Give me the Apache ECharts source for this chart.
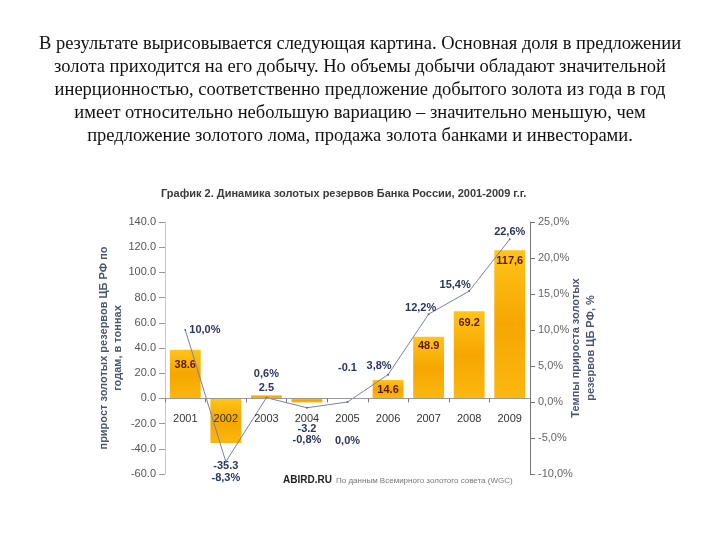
<!DOCTYPE html>
<html><head><meta charset="utf-8">
<script src="https://cdn.jsdelivr.net/npm/echarts@6/dist/echarts.min.js"></script>
<style>html,body{margin:0;padding:0;background:#fff}#c{width:720px;height:540px}</style>
</head><body><div id="c"></div>
<script>
const years = ['2001','2002','2003','2004','2005','2006','2007','2008','2009'];
const tonnes = [38.6, -35.3, 2.5, -3.2, -0.1, 14.6, 48.9, 69.2, 117.6];
const growthPct = [10.0, -8.3, 0.6, -0.8, 0.0, 3.8, 12.2, 15.4, 22.6];
const tonneLabels = ['38.6','-35.3','2.5','-3.2','-0.1','14.6','48.9','69.2','117,6'];
const paragraph = [
 'В результате вырисовывается следующая картина. Основная доля в предложении',
 'золота приходится на его добычу. Но объемы добычи обладают значительной',
 'инерционностью, соответственно предложение добытого золота из года в год',
 'имеет относительно небольшую вариацию – значительно меньшую, чем',
 'предложение золотого лома, продажа золота банками и инвесторами.'
];
const chartTitle = 'График 2. Динамика золотых резервов Банка России, 2001-2009 г.г.';

const barLabelCfg = [
 {position:'insideTop', distance:10, inside:true},
 {position:'bottom', distance:18},
 {position:'top', distance:2},
 {position:'bottom', distance:21},
 {position:'top', distance:25},
 {position:'insideTop', distance:4, inside:true},
 {position:'insideTop', distance:4, inside:true},
 {position:'insideTop', distance:6, inside:true},
 {position:'insideTop', distance:5, inside:true}
];
const lineLabelCfg = [
 {position:'right', distance:3, offset:[0,0]},
 {position:'bottom', distance:10, offset:[0,0]},
 {position:'top', distance:17, offset:[0,0]},
 {position:'bottom', distance:26, offset:[0,0]},
 {position:'bottom', distance:32, offset:[0,0]},
 {position:'top', distance:2, offset:[-9,0]},
 {position:'top', distance:0, offset:[-8,0]},
 {position:'top', distance:0, offset:[-14,0]},
 {position:'top', distance:1, offset:[0,0]}
];

const navy = '#2b3563';
const barGrad = new echarts.graphic.LinearGradient(0,0,0,1,[
  {offset:0,color:'#ffc41a'},{offset:0.5,color:'#f6a600'},{offset:1,color:'#fbb810'}]);

const barData = tonnes.map((v,i)=>({
  value:v,
  label:{show:true, position:barLabelCfg[i].position, distance:barLabelCfg[i].distance,
    formatter:()=>tonneLabels[i],
    color: barLabelCfg[i].inside ? '#5a1a0a' : navy,
    fontWeight:'bold', fontSize:11, fontFamily:'Liberation Sans'}
}));
const lineData = growthPct.map((v,i)=>({
  value:v,
  label:{show:true, position:lineLabelCfg[i].position, distance:lineLabelCfg[i].distance,
    offset:lineLabelCfg[i].offset,
    formatter:()=>v.toFixed(1).replace('.',',')+'%',
    color:navy, fontWeight:'bold', fontSize:11, fontFamily:'Liberation Sans'}
}));

const chart = echarts.init(document.getElementById('c'), null, {renderer:'canvas'});
chart.setOption({
  animation:false,
  backgroundColor:'#fff',
  textStyle:{fontFamily:'Liberation Sans'},
  grid:{left:165, right:190, top:222, bottom:66},
  xAxis:{type:'category', data:years, z:10,
    axisLine:{onZero:true, onZeroAxisIndex:0, lineStyle:{color:'#999'}},
    axisTick:{show:true, length:4, lineStyle:{color:'#777'}},
    axisLabel:{color:'#333', fontSize:11, margin:-61, hideOverlap:false}},
  yAxis:[
    {type:'value', min:-60, max:140, interval:20, position:'left',
     name:'прирост золотых резервов ЦБ РФ по\nгодам, в тоннах', nameLocation:'middle', nameGap:40, nameRotate:90,
     nameMoveOverlap:false,
     nameTextStyle:{color:'#4a5570', fontWeight:'bold', fontSize:11, lineHeight:14},
     axisLine:{show:true, lineStyle:{color:'#c8c8c8'}},
     axisTick:{show:true, length:6, lineStyle:{color:'#999'}},
     splitLine:{show:false},
     axisLabel:{color:'#555', fontSize:11, margin:9, formatter:v=>v.toFixed(1)}},
    {type:'value', min:-10, max:25, interval:5, position:'right', alignTicks:false,
     name:'Темпы прироста золотых\nрезервов ЦБ РФ, %', nameLocation:'middle', nameGap:38, nameRotate:90,
     nameMoveOverlap:false,
     nameTextStyle:{color:'#4a5570', fontWeight:'bold', fontSize:11, lineHeight:15},
     axisLine:{show:true, lineStyle:{color:'#777'}},
     axisTick:{show:true, length:5, lineStyle:{color:'#777'}},
     splitLine:{show:false},
     axisLabel:{color:'#666', fontSize:11, margin:8, formatter:v=>v.toFixed(1).replace('.',',')+'%'}}
  ],
  series:[
    {type:'bar', yAxisIndex:0, data:barData, barCategoryGap:'24%',
     itemStyle:{color:barGrad}},
    {type:'line', yAxisIndex:1, data:lineData, symbol:'circle', symbolSize:2,
     lineStyle:{color:'#7682b0', width:1}, itemStyle:{color:'#5a6690'}, z:5}
  ],
  graphic:[
    {type:'text', x:360, y:33, style:{text:paragraph.join('\n'), font:'18.5px "Liberation Serif"', lineHeight:23, fill:'#111', align:'center', verticalAlign:'top'}},
    {type:'text', left:161, top:188, style:{text:chartTitle, font:'bold 11px "Liberation Sans"', fill:'#3a3a3a'}},
    {type:'text', left:283, top:475, style:{text:'ABIRD.RU', font:'bold 10px "Liberation Sans"', fill:'#222'}},
    {type:'text', left:336, top:477, style:{text:'По данным Всемирного золотого совета (WGC)', font:'8px "Liberation Sans"', fill:'#777'}}
  ]
});
</script></body></html>
